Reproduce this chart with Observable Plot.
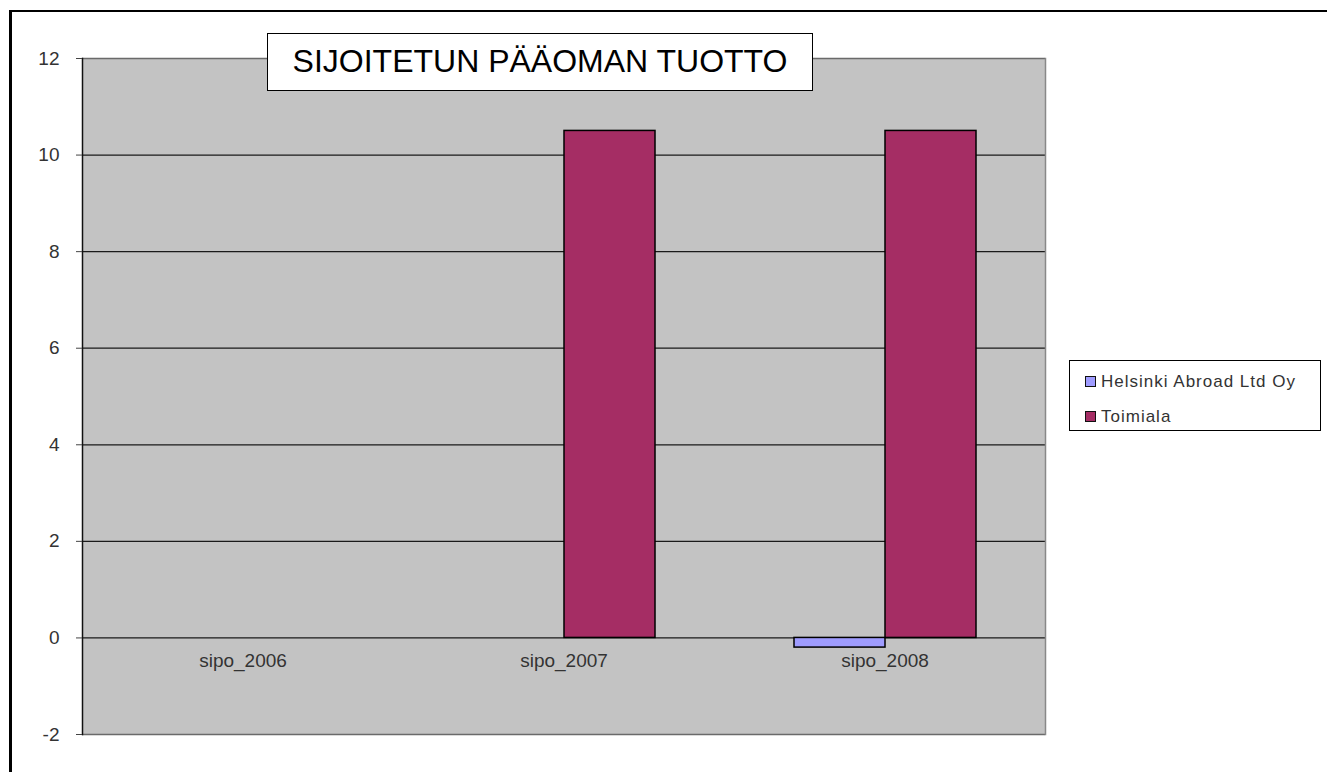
<!DOCTYPE html>
<html>
<head>
<meta charset="utf-8">
<script src="https://cdn.jsdelivr.net/npm/d3@7"></script>
<script src="https://cdn.jsdelivr.net/npm/@observablehq/plot@0.6"></script>
<style>
  html, body { margin: 0; padding: 0; background: #fff; }
  #wrap { position: relative; width: 1327px; height: 772px; overflow: hidden; font-family: "Liberation Sans", Arial, sans-serif; }
  #outer { position: absolute; left: 9px; top: 10px; width: 1400px; height: 900px; border-left: 3px solid #000; border-top: 2px solid #000; box-sizing: border-box; }
  #chart { position: absolute; left: 0; top: 0; }
  #title { position: absolute; left: 267px; top: 33px; width: 546px; height: 58px; box-sizing: border-box; border: 1.5px solid #000; background: #fff; font-size: 32px; line-height: 55px; text-align: center; color: #000; white-space: nowrap; }
  #legend { position: absolute; left: 1069px; top: 360px; width: 252px; height: 71px; box-sizing: border-box; border: 1px solid #000; background: #fff; font-size: 17px; color: #333; letter-spacing: 1px; padding-top: 3px; }
  .item { display: flex; align-items: center; height: 35px; padding-left: 15px; }
  .sw { width: 9px; height: 9px; border: 1.5px solid #111; margin-right: 5px; flex: none; }
</style>
</head>
<body>
<div id="wrap">
  <div id="outer"></div>
  <div id="chart"></div>
  <div id="title">SIJOITETUN PÄÄOMAN TUOTTO</div>
  <div id="legend"></div>
</div>
<script>
// ---- data ----
const categories = ["sipo_2006", "sipo_2007", "sipo_2008"];
const seriesNames = ["Helsinki Abroad Ltd Oy", "Toimiala"];
const helsinkiValues = [0, 0, -0.2];
const toimialaValues = [0, 10.5, 10.5];
const yTicks = [-2, 0, 2, 4, 6, 8, 10, 12];
const seriesColors = ["#9f9cff", "#a52d64"];

const rows = [];
categories.forEach((c, i) => {
  rows.push({category: c, series: seriesNames[0], value: helsinkiValues[i]});
  rows.push({category: c, series: seriesNames[1], value: toimialaValues[i]});
});

const chart = Plot.plot({
  width: 1327,
  height: 772,
  marginLeft: 81,
  marginRight: 282,
  marginTop: 58,
  marginBottom: 38,
  style: {fontFamily: "'Liberation Sans', Arial, sans-serif", fontSize: "19px", color: "#333", background: "transparent", overflow: "visible"},
  fx: {domain: categories, padding: 0, axis: null, label: null},
  x: {domain: seriesNames, paddingInner: 0, paddingOuter: 0.745, axis: null, label: null},
  y: {domain: [-2, 12], axis: null, label: null},
  color: {domain: seriesNames, range: seriesColors},
  marks: [
    Plot.frame({fill: "#c3c3c3", stroke: "#c3c3c3", strokeWidth: 1}),
    Plot.ruleY(yTicks.filter(t => t > -2 && t < 12), {stroke: "#1a1a1a", strokeWidth: 1.2}),
    Plot.ruleY([12, -2], {stroke: "#6a6a6a", strokeWidth: 1.5}),
    Plot.frame({anchor: "left", facetAnchor: "left", stroke: "#111", strokeWidth: 1.5}),
    Plot.frame({anchor: "right", facetAnchor: "right", stroke: "#888", strokeWidth: 1.5}),
    Plot.axisY({ticks: yTicks, tickSize: 6, tickPadding: 17, label: null, tickFormat: d => `${d}`, stroke: "#444", fill: "#333", fontSize: 19, letterSpacing: "1.2px"}),
    Plot.barY(rows.filter(d => d.value !== 0), {fx: "category", x: "series", y: "value", fill: "series", stroke: "#000", strokeWidth: 1.5}),
    Plot.text(categories, {fx: d => d, y: () => 0, text: d => d, dy: 23, fill: "#333", fontSize: 19, letterSpacing: "1.2px"})
  ]
});
document.getElementById("chart").appendChild(chart);

// legend
const legend = document.getElementById("legend");
seriesNames.forEach((name, i) => {
  const item = document.createElement("div");
  item.className = "item";
  const sw = document.createElement("span");
  sw.className = "sw";
  sw.style.background = seriesColors[i];
  const label = document.createElement("span");
  label.textContent = name;
  item.appendChild(sw);
  item.appendChild(label);
  legend.appendChild(item);
});
</script>
</body>
</html>
